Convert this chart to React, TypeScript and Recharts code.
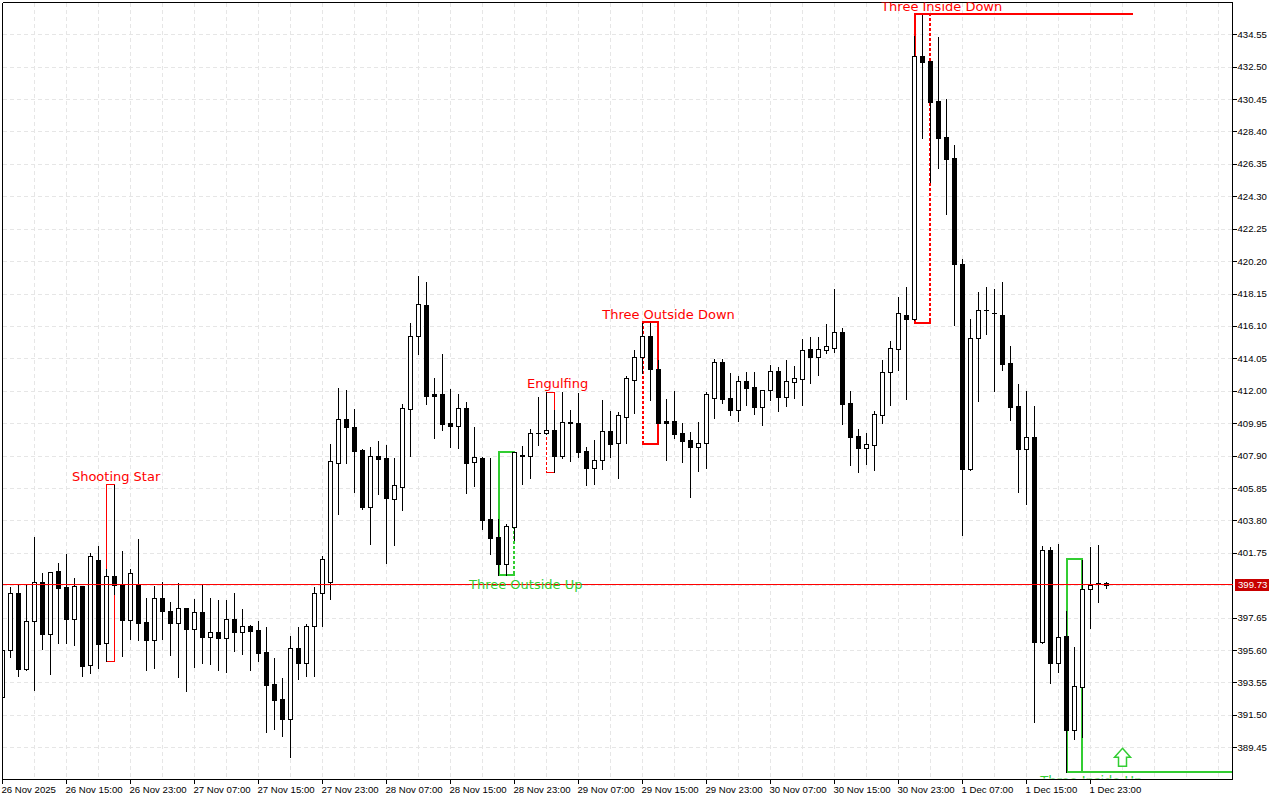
import {
  Bar,
  CartesianGrid,
  ComposedChart,
  ReferenceArea,
  ReferenceDot,
  ReferenceLine,
  XAxis,
  YAxis,
} from "recharts";

// H1 candles, left to right
const opens = [
  392.63, 395.6, 399.21, 394.4, 397.44, 399.91, 396.62, 400.6, 399.59, 397.57,
  399.65, 394.66, 401.3, 396.05, 400.28, 399.78, 397.5, 399.72, 397.38, 396.24,
  398.89, 398.07, 397.31, 398.26, 396.93, 398.01, 396.43, 396.74, 396.36, 397.57,
  396.74, 397.12, 396.87, 395.48, 393.45, 392.51, 391.24, 395.73, 394.78, 397.12,
  399.21, 399.91, 407.43, 410.22, 409.71, 408.25, 404.65, 407.88, 407.75, 405.16,
  405.92, 410.85, 415.47, 417.43, 411.8, 411.8, 409.96, 409.77, 410.91, 407.5,
  407.75, 403.89, 402.75, 401.04, 403.38, 407.94, 407.88, 409.33, 409.33, 409.52,
  407.88, 410.03, 409.96, 408.19, 407.12, 407.62, 409.46, 408.7, 410.34, 412.68,
  414.14, 415.47, 413.38, 410.09, 410.09, 409.33, 408.89, 408.44, 408.7, 411.54,
  413.82, 411.54, 410.8, 412.62, 412.24, 410.97, 412.05, 413.25, 411.61, 412.55,
  412.75, 414.64, 414.14, 414.58, 414.71, 415.72, 411.23, 409.14, 408.38, 408.57,
  410.47, 413.19, 414.64, 416.79, 416.54, 433.18, 432.86, 430.33, 428.05, 426.72,
  420.02, 407.05, 415.34, 417.11, 416.92, 416.79, 413.76, 411.04, 408.32, 409.08,
  396.11, 401.93, 394.78, 396.49, 390.55, 393.26, 399.46, 399.84, 399.84,
];
const highs = [
  395.6, 399.65, 399.78, 399.84, 402.82, 400.54, 400.54, 401.17, 401.74, 400.22,
  399.65, 401.8, 402.25, 400.79, 406.1, 401.93, 400.79, 402.69, 398.96, 399.72,
  399.97, 398.7, 399.91, 398.32, 398.89, 399.84, 398.96, 398.83, 398.83, 399.27,
  398.26, 397.25, 397.5, 397.12, 395.16, 393.9, 396.55, 397.12, 397.31, 399.65,
  401.61, 408.7, 412.24, 412.11, 410.91, 408.38, 408.51, 408.89, 408.63, 407.81,
  411.23, 416.35, 419.32, 418.94, 412.87, 414.39, 412.18, 411.86, 411.35, 409.77,
  407.88, 407.81, 403.95, 403.64, 408.13, 408.57, 409.65, 411.67, 411.99, 410.85,
  411.99, 410.85, 411.92, 408.51, 408.95, 411.48, 410.8, 410.72, 413.0, 414.64,
  416.35, 416.35, 414.01, 411.54, 412.05, 410.03, 409.46, 410.09, 411.99, 414.07,
  414.07, 413.19, 413.0, 413.25, 413.25, 412.11, 413.7, 413.57, 414.01, 413.63,
  415.34, 415.47, 415.47, 416.29, 418.5, 416.04, 412.05, 409.65, 409.39, 410.8,
  414.01, 415.22, 417.99, 418.63, 434.5, 435.83, 432.86, 434.44, 430.52, 427.61,
  420.4, 416.6, 418.31, 418.63, 418.5, 418.94, 414.9, 412.49, 412.05, 411.1,
  402.25, 402.18, 402.37, 398.13, 395.86, 401.36, 402.18, 402.31, 399.97,
];
const lows = [
  392.63, 395.16, 393.96, 394.34, 393.07, 395.67, 394.09, 396.05, 396.05, 395.93,
  393.96, 394.15, 394.47, 394.91, 399.15, 395.23, 396.3, 396.24, 394.34, 394.47,
  396.3, 395.29, 393.9, 393.01, 394.53, 394.78, 394.72, 394.34, 394.21, 395.54,
  395.35, 394.34, 394.91, 390.42, 390.61, 390.17, 388.84, 393.77, 393.96, 393.96,
  397.12, 398.83, 404.21, 407.43, 405.6, 404.52, 402.31, 405.47, 401.11, 402.25,
  404.46, 407.88, 414.33, 411.16, 409.01, 409.52, 408.44, 408.38, 405.53, 405.98,
  403.26, 401.67, 400.35, 400.35, 402.56, 406.1, 406.48, 408.57, 409.27, 406.86,
  407.75, 407.56, 407.81, 406.04, 406.1, 407.05, 407.81, 406.48, 408.7, 410.59,
  413.13, 411.42, 409.96, 407.62, 409.01, 407.5, 405.28, 406.93, 407.12, 410.28,
  411.23, 410.47, 410.09, 411.1, 410.53, 409.84, 411.42, 410.72, 411.04, 411.54,
  411.1, 412.49, 413.0, 414.39, 414.45, 409.9, 407.31, 406.86, 407.37, 406.99,
  409.96, 411.1, 413.32, 411.48, 416.48, 427.99, 425.2, 426.09, 423.18, 416.16,
  402.88, 406.99, 411.35, 415.59, 411.99, 413.32, 410.15, 405.6, 404.84, 391.05,
  396.05, 393.52, 394.21, 387.89, 389.98, 390.1, 396.99, 398.64, 399.53,
];
const closes = [
  395.6, 399.21, 394.4, 397.44, 399.91, 396.62, 400.54, 399.53, 397.57, 399.65,
  394.59, 401.55, 395.98, 400.28, 399.72, 397.5, 400.47, 397.31, 396.24, 398.89,
  398.07, 397.31, 398.26, 396.93, 398.01, 396.43, 396.74, 396.36, 397.57, 396.74,
  397.12, 396.81, 395.41, 393.39, 392.44, 391.24, 395.73, 394.78, 397.12, 399.21,
  401.36, 407.56, 410.22, 409.71, 408.19, 404.65, 407.88, 407.69, 405.22, 406.04,
  410.91, 415.47, 417.49, 411.67, 411.67, 409.9, 409.77, 410.91, 407.43, 407.81,
  403.83, 402.69, 401.04, 403.45, 408.13, 407.88, 409.33, 409.33, 409.52, 407.88,
  410.03, 409.96, 408.13, 407.12, 407.62, 409.46, 408.63, 410.47, 412.81, 414.14,
  415.47, 413.38, 409.96, 409.96, 409.27, 408.82, 408.44, 408.7, 411.8, 413.82,
  411.48, 410.8, 412.62, 412.18, 410.97, 412.05, 413.25, 411.61, 412.62, 412.81,
  414.58, 414.14, 414.64, 414.83, 415.72, 411.16, 409.08, 408.38, 408.63, 410.53,
  413.19, 414.71, 416.92, 416.54, 433.18, 432.8, 430.27, 427.99, 426.66, 420.02,
  407.05, 415.34, 417.11, 417.11, 416.92, 413.7, 410.97, 408.32, 409.08, 396.11,
  401.93, 394.78, 396.43, 390.55, 393.33, 399.46, 399.72, 399.84, 399.73,
];

// axis labels; 399.70 sits under the last-price tag so it only gets a grid line
const priceTicks = [
  434.55, 432.5, 430.45, 428.4, 426.35, 424.3, 422.25, 420.2, 418.15, 416.1, 414.05,
  412.0, 409.95, 407.9, 405.85, 403.8, 401.75, 397.65, 395.6, 393.55, 391.5, 389.45,
];
const gridPrices = [
  434.55, 432.5, 430.45, 428.4, 426.35, 424.3, 422.25, 420.2, 418.15, 416.1, 414.05,
  412.0, 409.95, 407.9, 405.85, 403.8, 401.75, 399.7, 397.65, 395.6, 393.55, 391.5,
  389.45,
];
const timeLabels = [
  "26 Nov 2025", "26 Nov 15:00", "26 Nov 23:00", "27 Nov 07:00", "27 Nov 15:00",
  "27 Nov 23:00", "28 Nov 07:00", "28 Nov 15:00", "28 Nov 23:00", "29 Nov 07:00",
  "29 Nov 15:00", "29 Nov 23:00", "30 Nov 07:00", "30 Nov 15:00", "30 Nov 23:00",
  "1 Dec 07:00", "1 Dec 15:00", "1 Dec 23:00",
];
const timeTicks = [0, 8, 16, 24, 32, 40, 48, 56, 64, 72, 80, 88, 96, 104, 112, 120, 128, 136];
const gridBars = [
  4, 8, 12, 16, 20, 24, 28, 32, 36, 40, 44, 48, 52, 56, 60, 64, 68, 72, 76, 80, 84, 88,
  92, 96, 100, 104, 108, 112, 116, 120, 124, 128, 132, 136, 140, 144, 148, 152,
];

const lastPrice = 399.73;
const RED = "#ff0000";
const GREEN = "#32cd32";
const AXIS_FONT = "Liberation Sans";

// pattern boxes, one entry per pattern
const patternNames = [
  "Shooting Star", "Engulfing", "Three Outside Up", "Three Outside Down", "Three Inside Down", "Three Inside Up",
];
const patternStart = [13, 68, 62, 80, 114, 133];
const patternEnd = [14, 69, 64, 82, 116, 135];
const patternTop = [406.1, 411.92, 408.13, 416.35, 435.83, 401.36];
const patternBottom = [394.91, 406.86, 400.35, 408.63, 416.29, 387.89];
const patternColor = [RED, RED, GREEN, RED, RED, GREEN];
const patternWeight = [1, 1, 2, 2, 2, 2];
// which side of the box is drawn broken
const patternDashSide = ["", "left", "right", "left", "right", ""];
const patternLabelBar = [14.2, 69.4, 65.4, 83.25, 117.4, 136.1];
const patternLabelPrice = [406.61, 412.49, 399.78, 416.86, 436.34, 387.38];

const X_MAX = 153.75;
const Y_MIN = 387.445;
const Y_MAX = 436.5905;
const PLOT_LEFT = 2.5;
const PLOT_RIGHT = 1232.5;
const PLOT_TOP = 2.5;
const PLOT_BOTTOM = 779.5;

const candles = opens.map((open, i) => ({
  i,
  open,
  high: highs[i],
  low: lows[i],
  close: closes[i],
  range: [lows[i], highs[i]],
}));

const px = (v: number) => Math.floor(v) + 0.5;

const CandleShape = (props: any) => {
  const { x, y, width, height, payload } = props;
  const { open, high, low, close } = payload;
  const k = height / (high - low);
  const cx = px(x + width / 2);
  const top = px(y + (high - Math.max(open, close)) * k);
  const bottom = px(y + (high - Math.min(open, close)) * k);
  return (
    <g shapeRendering="crispEdges">
      <line x1={cx} x2={cx} y1={px(y)} y2={px(y + height)} stroke="#000" />
      {bottom === top ? (
        <line x1={cx - 2.5} x2={cx + 2.5} y1={top} y2={top} stroke="#000" />
      ) : (
        <rect
          x={cx - 2}
          y={top}
          width={4}
          height={bottom - top}
          fill={close >= open ? "#fff" : "#000"}
          stroke="#000"
        />
      )}
    </g>
  );
};

const PatternBox = ({ x, y, width, height, color, weight, dashSide }: any) => {
  // a 2px outline sits half a pixel inside the candle columns
  const inset = weight === 2 ? 0.5 : 0;
  const left = x + inset;
  const right = x + width - inset;
  const top = y - inset;
  const bottom = y + height - inset;
  const dashX = dashSide === "left" ? left : right;
  return (
    <g shapeRendering="crispEdges">
      <rect
        x={left}
        y={top}
        width={right - left}
        height={bottom - top}
        fill="none"
        stroke={color}
        strokeWidth={weight}
      />
      {dashSide ? (
        <line
          x1={dashX}
          x2={dashX}
          y1={top + 2}
          y2={bottom - 2}
          stroke="#fff"
          strokeWidth={weight + 1}
          strokeDasharray="2 3"
        />
      ) : null}
    </g>
  );
};

const TimeTick = ({ x, y, index }: any) => (
  <text x={x - 1} y={y + 7} fontFamily={AXIS_FONT} fontSize={9.6} fill="#000" textAnchor="start">
    {timeLabels[index]}
  </text>
);

const PriceTick = ({ x, y, payload }: any) => (
  <text x={x - 1} y={y + 3} fontFamily={AXIS_FONT} fontSize={9.6} fill="#000" textAnchor="start">
    {payload.value.toFixed(2)}
  </text>
);

// last price: the line across the plot and the tag on the axis
const PriceTag = ({ cy }: any) => {
  const row = px(cy) - 1;
  return (
    <g>
      <line
        x1={PLOT_LEFT}
        x2={PLOT_RIGHT}
        y1={row}
        y2={row}
        stroke={RED}
        strokeWidth={1}
        shapeRendering="crispEdges"
      />
      <rect x={1235} y={row - 5.5} width={34} height={12} fill="#c80000" />
      <text x={1238} y={row + 3.5} fontFamily={AXIS_FONT} fontSize={9.6} fill="#fff">
        {lastPrice.toFixed(2)}
      </text>
    </g>
  );
};

const PatternLabel = ({ cx, cy, name, color }: any) => {
  const clipId = `clip-${name.replace(/ /g, "-")}`;
  return (
    <g>
      <clipPath id={clipId}>
        <rect x={0} y={PLOT_TOP} width={1232} height={PLOT_BOTTOM - PLOT_TOP - 1} />
      </clipPath>
      <text
        x={cx}
        y={cy + 4.5}
        fontFamily="DejaVu Sans"
        fontSize={13}
        fill={color}
        textAnchor="middle"
        clipPath={`url(#${clipId})`}
      >
        {name}
      </text>
    </g>
  );
};

const UpArrow = ({ cx, cy }: any) => (
  <polygon
    points={[
      [cx, cy - 9],
      [cx + 8, cy],
      [cx + 4, cy],
      [cx + 4, cy + 9],
      [cx - 4, cy + 9],
      [cx - 4, cy],
      [cx - 8, cy],
    ]
      .map((p) => p.join(","))
      .join(" ")}
    fill="#fff"
    stroke={GREEN}
    strokeWidth={1.5}
  />
);

export default function App() {
  return (
    <div style={{ position: "absolute", left: 0, top: 0, width: 1280, height: 800, background: "#fff" }}>
      <ComposedChart
        width={1280}
        height={800}
        data={candles}
        margin={{ top: PLOT_TOP, right: 0, bottom: 0, left: PLOT_LEFT }}
      >
        <CartesianGrid
          stroke="#e6e6e6"
          strokeDasharray="4 3"
          horizontalValues={gridPrices}
          verticalValues={gridBars}
          shapeRendering="crispEdges"
        />
        <XAxis
          dataKey="i"
          type="number"
          domain={[0, X_MAX]}
          ticks={timeTicks}
          interval={0}
          height={20.5}
          stroke="#000"
          tickSize={4}
          tick={<TimeTick />}
          shapeRendering="crispEdges"
          allowDataOverflow
        />
        <YAxis
          orientation="right"
          type="number"
          domain={[Y_MIN, Y_MAX]}
          ticks={priceTicks}
          interval={0}
          width={47.5}
          stroke="#000"
          tickSize={4}
          tick={<PriceTick />}
          shapeRendering="crispEdges"
          allowDataOverflow
        />
        <ReferenceLine x={0} stroke="#000" shapeRendering="crispEdges" />
        <ReferenceLine y={Y_MAX} stroke="#000" shapeRendering="crispEdges" />

        {patternNames.map((name, p) => (
          <ReferenceArea
            key={name}
            x1={patternStart[p]}
            x2={patternEnd[p]}
            y1={patternBottom[p]}
            y2={patternTop[p]}
            shape={
              <PatternBox color={patternColor[p]} weight={patternWeight[p]} dashSide={patternDashSide[p]} />
            }
          />
        ))}
        {/* the two big patterns run on past their box */}
        <ReferenceLine
          segment={[{ x: 116, y: 435.86 }, { x: 141.25, y: 435.86 }]}
          stroke={RED}
          strokeWidth={2}
          shapeRendering="crispEdges"
        />
        <ReferenceLine
          segment={[{ x: 135, y: 387.92 }, { x: X_MAX, y: 387.92 }]}
          stroke={GREEN}
          strokeWidth={2}
          shapeRendering="crispEdges"
        />

        <Bar
          dataKey="range"
          barSize={5}
          shape={<CandleShape />}
          isAnimationActive={false}
        />

        <ReferenceDot x={X_MAX} y={lastPrice} ifOverflow="visible" shape={<PriceTag />} />

        {patternNames.map((name, p) => (
          <ReferenceDot
            key={name}
            x={patternLabelBar[p]}
            y={patternLabelPrice[p]}
            ifOverflow="visible"
            shape={<PatternLabel name={name} color={patternColor[p]} />}
          />
        ))}
        <ReferenceDot x={140} y={388.85} ifOverflow="visible" shape={<UpArrow />} />
      </ComposedChart>
    </div>
  );
}
